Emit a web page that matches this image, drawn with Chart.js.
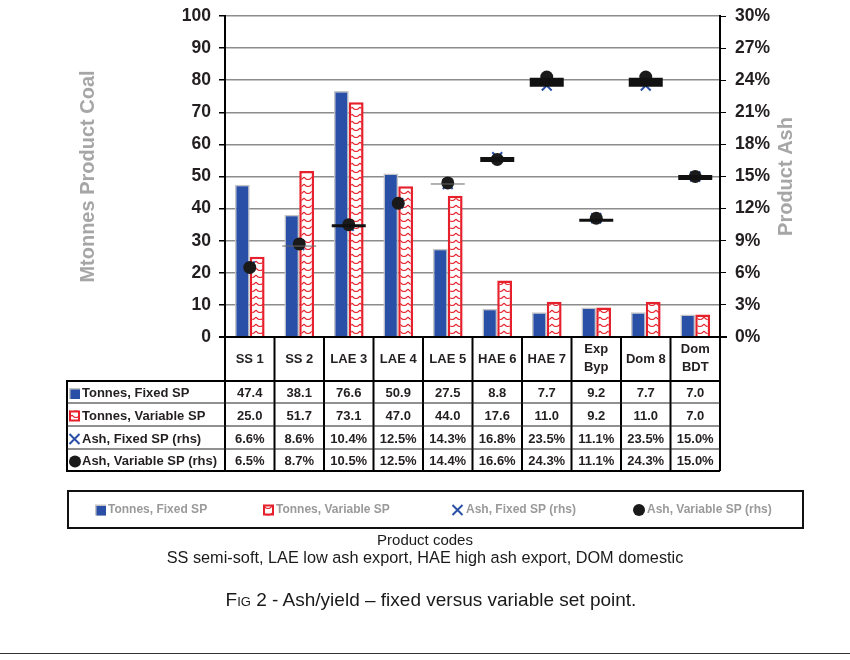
<!DOCTYPE html>
<html>
<head>
<meta charset="utf-8">
<script src="https://cdn.jsdelivr.net/npm/chart.js@4.4.1/dist/chart.umd.min.js"></script>
<style>
  body { margin: 0; background: #fff; }
  #wrap { position: relative; width: 850px; height: 660px; font-family: "Liberation Sans", Arial, sans-serif; }
  #wrap canvas { position: absolute; left: 0; top: 0; }
  .cap { position: absolute; left: 0; width: 850px; text-align: center; color: #1a1a1a; white-space: nowrap; }
  .rule { position: absolute; left: 0; top: 653px; width: 850px; height: 1px; background: #333; }
</style>
</head>
<body>
<div id="wrap">
  <canvas id="chart" width="850" height="660"></canvas>
  <div class="cap" style="top:531px; font-size:15px;">Product codes</div>
  <div class="cap" style="top:548px; font-size:16.3px;">SS semi-soft, LAE low ash export, HAE high ash export, DOM domestic</div>
  <div class="cap" style="top:589px; font-size:19px; left:6px;"><span style="font-variant:small-caps">Fig</span> 2 - Ash/yield – fixed versus variable set point.</div>
  <div class="rule"></div>
</div>
<script>
const FONT = '"Liberation Sans", Arial, sans-serif';

// product codes, multi-line where the table header wraps
const categories = [['SS 1'], ['SS 2'], ['LAE 3'], ['LAE 4'], ['LAE 5'], ['HAE 6'], ['HAE 7'], ['Exp', 'Byp'], ['Dom 8'], ['Dom', 'BDT']];
const tonnesFixed = [47.4, 38.1, 76.6, 50.9, 27.5, 8.8, 7.7, 9.2, 7.7, 7.0];
const tonnesVariable = [25.0, 51.7, 73.1, 47.0, 44.0, 17.6, 11.0, 9.2, 11.0, 7.0];
const ashFixed = [6.6, 8.6, 10.4, 12.5, 14.3, 16.8, 23.5, 11.1, 23.5, 15.0];
const ashVariable = [6.5, 8.7, 10.5, 12.5, 14.4, 16.6, 24.3, 11.1, 24.3, 15.0];
// the black dashes sitting on some ash points
const ashDash = [null, 8.5, 10.4, null, 14.3, 16.6, 23.8, 10.9, 23.8, 14.9];
const dashWidths = [0, 1, 3, 0, 1, 5, 9, 3, 9, 5];
const dashColors = ['#000', '#666', '#111', '#000', '#666', '#111', '#111', '#111', '#111', '#111'];

const BLUE = '#2a4fa6';
const RED = '#e6212b';
const INK = '#231f20';

function makeHatch() {
    const c = document.createElement('canvas');
    c.width = 8; c.height = 7;
    const g = c.getContext('2d');
    g.fillStyle = '#fff';
    g.fillRect(0, 0, 8, 7);
    g.strokeStyle = RED;
    g.lineWidth = 1.2;
    g.beginPath();
    g.moveTo(0, 2);
    g.quadraticCurveTo(4, 7, 8, 2);
    g.stroke();
    return g.createPattern(c, 'repeat');
}
const hatch = makeHatch();

function drawIcon(ctx, kind, x, cy) {
    ctx.save();
    if (kind === 0) {
        ctx.fillStyle = '#c4c4c4';
        ctx.fillRect(x, cy - 5.5, 11, 11);
        ctx.fillStyle = BLUE;
        ctx.fillRect(x + 1.5, cy - 4, 9.5, 9.5);
    } else if (kind === 1) {
        ctx.fillStyle = hatch;
        ctx.fillRect(x, cy - 5.5, 11, 11);
        ctx.strokeStyle = RED;
        ctx.lineWidth = 2;
        ctx.strokeRect(x + 1, cy - 4.5, 9, 9);
    } else if (kind === 2) {
        ctx.strokeStyle = BLUE;
        ctx.lineWidth = 2;
        ctx.beginPath();
        ctx.moveTo(x + 0.5, cy - 5); ctx.lineTo(x + 10.5, cy + 5);
        ctx.moveTo(x + 10.5, cy - 5); ctx.lineTo(x + 0.5, cy + 5);
        ctx.stroke();
    } else {
        ctx.fillStyle = '#1a1a1a';
        ctx.beginPath();
        ctx.arc(x + 6, cy, 6, 0, Math.PI * 2);
        ctx.fill();
    }
    ctx.restore();
}

const rowNames = ['Tonnes, Fixed SP', 'Tonnes, Variable SP', 'Ash, Fixed SP (rhs)', 'Ash, Variable SP (rhs)'];

const tablePlugin = {
    id: 'data_table',
    afterDraw: (chart) => {
        const ctx = chart.ctx;
        const a = chart.chartArea;
        const xs = chart.scales.x;
        const half = (xs.getPixelForValue(1) - xs.getPixelForValue(0)) / 2;
        const rows = [381, 403, 426, 449, 471];
        const tableLeft = 67;
        ctx.save();

        // axis titles
        ctx.fillStyle = '#a6a6a6';
        ctx.font = `bold 20px ${FONT}`;
        ctx.textAlign = 'center';
        ctx.textBaseline = 'middle';
        [[88, 'Mtonnes Product Coal'], [786, 'Product Ash']].forEach(([tx, t]) => {
            ctx.save();
            ctx.translate(tx, (a.top + a.bottom) / 2);
            ctx.rotate(-Math.PI / 2);
            ctx.fillText(t, 0, 0);
            ctx.restore();
        });

        // x axis line and table grid
        ctx.strokeStyle = '#000';
        ctx.lineWidth = 2;
        ctx.beginPath();
        ctx.moveTo(a.left - 6, a.bottom); ctx.lineTo(a.right + 7, a.bottom);
        for (let i = 0; i <= categories.length; i++) {
            const bx = xs.getPixelForValue(0) - half + i * 2 * half;
            ctx.moveTo(bx, a.bottom); ctx.lineTo(bx, rows[4]);
        }
        ctx.moveTo(tableLeft, rows[0]); ctx.lineTo(a.right, rows[0]);
        ctx.moveTo(tableLeft, rows[4]); ctx.lineTo(a.right, rows[4]);
        ctx.moveTo(tableLeft, rows[0] - 1); ctx.lineTo(tableLeft, rows[4] + 1);
        ctx.stroke();
        ctx.lineWidth = 1.2;
        ctx.strokeStyle = '#222';
        ctx.beginPath();
        for (let r = 1; r < 4; r++) {
            ctx.moveTo(tableLeft, rows[r]); ctx.lineTo(a.right, rows[r]);
        }
        ctx.stroke();

        // header
        ctx.fillStyle = INK;
        ctx.font = `bold 13px ${FONT}`;
        ctx.textAlign = 'center';
        categories.forEach((lab, i) => {
            const cx = xs.getPixelForValue(i);
            if (lab.length === 1) {
                ctx.fillText(lab[0], cx, 359);
            } else {
                ctx.fillText(lab[0], cx, 349);
                ctx.fillText(lab[1], cx, 367);
            }
        });

        // rows
        const series = [
            tonnesFixed.map(v => v.toFixed(1)),
            tonnesVariable.map(v => v.toFixed(1)),
            ashFixed.map(v => v.toFixed(1) + '%'),
            ashVariable.map(v => v.toFixed(1) + '%')
        ];
        series.forEach((vals, r) => {
            const cy = (rows[r] + rows[r + 1]) / 2 + 1.5;
            drawIcon(ctx, r, 69, cy);
            ctx.textAlign = 'left';
            ctx.fillStyle = INK;
            ctx.fillText(rowNames[r], 82, cy);
            ctx.textAlign = 'center';
            vals.forEach((v, i) => ctx.fillText(v, xs.getPixelForValue(i), cy));
        });

        // legend box
        ctx.strokeStyle = '#111';
        ctx.lineWidth = 2;
        ctx.strokeRect(68, 491, 735, 37);
        const legendX = [[95, 108], [263, 276], [452, 466], [633, 647]];
        ctx.font = `bold 12px ${FONT}`;
        ctx.textAlign = 'left';
        legendX.forEach(([ix, tx], k) => {
            drawIcon(ctx, k, ix, 510);
            ctx.fillStyle = '#9a9a9a';
            ctx.fillText(rowNames[k], tx, 510);
        });
        ctx.restore();
    }
};

// keep the plot box fixed: left axis column 225px, right 130px
function fitAxis(width) {
    return (s) => { s.width = width; };
}
// reduced lineHeight so the top tick label does not push the plot down
const tickFont = { family: FONT, size: 17.5, weight: 'bold', lineHeight: 0.8 };

new Chart(document.getElementById('chart'), {
    type: 'bar',
    data: {
        labels: categories,
        datasets: [
            {
                label: rowNames[0],
                data: tonnesFixed,
                yAxisID: 'y',
                backgroundColor: BLUE,
                borderColor: '#c4c4c4',
                borderWidth: 1.5,
                barPercentage: 1,
                categoryPercentage: 0.6,
                order: 10
            },
            {
                label: rowNames[1],
                data: tonnesVariable,
                yAxisID: 'y',
                backgroundColor: hatch,
                borderColor: RED,
                borderWidth: 2.5,
                barPercentage: 1,
                categoryPercentage: 0.6,
                order: 10
            },
            {
                type: 'line',
                label: rowNames[2],
                data: ashFixed,
                yAxisID: 'y1',
                showLine: false,
                pointStyle: 'crossRot',
                pointRadius: 7,
                pointBorderColor: BLUE,
                pointBorderWidth: 2,
                order: 3
            },
            {
                type: 'line',
                label: rowNames[3],
                data: ashVariable,
                yAxisID: 'y1',
                showLine: false,
                pointStyle: 'circle',
                pointRadius: 6.5,
                pointBackgroundColor: '#1a1a1a',
                pointBorderColor: '#1a1a1a',
                pointBorderWidth: 0,
                order: 2
            },
            {
                type: 'line',
                label: 'dash',
                data: ashDash,
                yAxisID: 'y1',
                showLine: false,
                pointStyle: 'line',
                pointRadius: 17,
                pointBorderColor: dashColors,
                pointBorderWidth: dashWidths,
                order: 1
            }
        ]
    },
    options: {
        responsive: false,
        animation: false,
        events: [],
        // autoPadding off: the wide dash markers would otherwise push the plot top down
        layout: { autoPadding: false, padding: { top: 15, bottom: 323, left: 0, right: 0 } },
        plugins: { legend: { display: false }, tooltip: { enabled: false } },
        scales: {
            x: { display: false },
            y: {
                position: 'left',
                min: 0, max: 100,
                ticks: { stepSize: 10, padding: 8, color: INK, font: tickFont },
                grid: { color: '#8c8c8c', lineWidth: 1.5, tickColor: '#000', tickLength: 6 },
                border: { color: '#000', width: 2 },
                afterFit: fitAxis(225)
            },
            y1: {
                position: 'right',
                min: 0, max: 30,
                ticks: { stepSize: 3, padding: 9, color: INK, font: tickFont, callback: v => v + '%' },
                grid: { drawOnChartArea: false, tickColor: '#000', tickLength: 6 },
                border: { color: '#000', width: 2 },
                afterFit: fitAxis(130)
            }
        }
    },
    plugins: [tablePlugin]
});
</script>
</body>
</html>
